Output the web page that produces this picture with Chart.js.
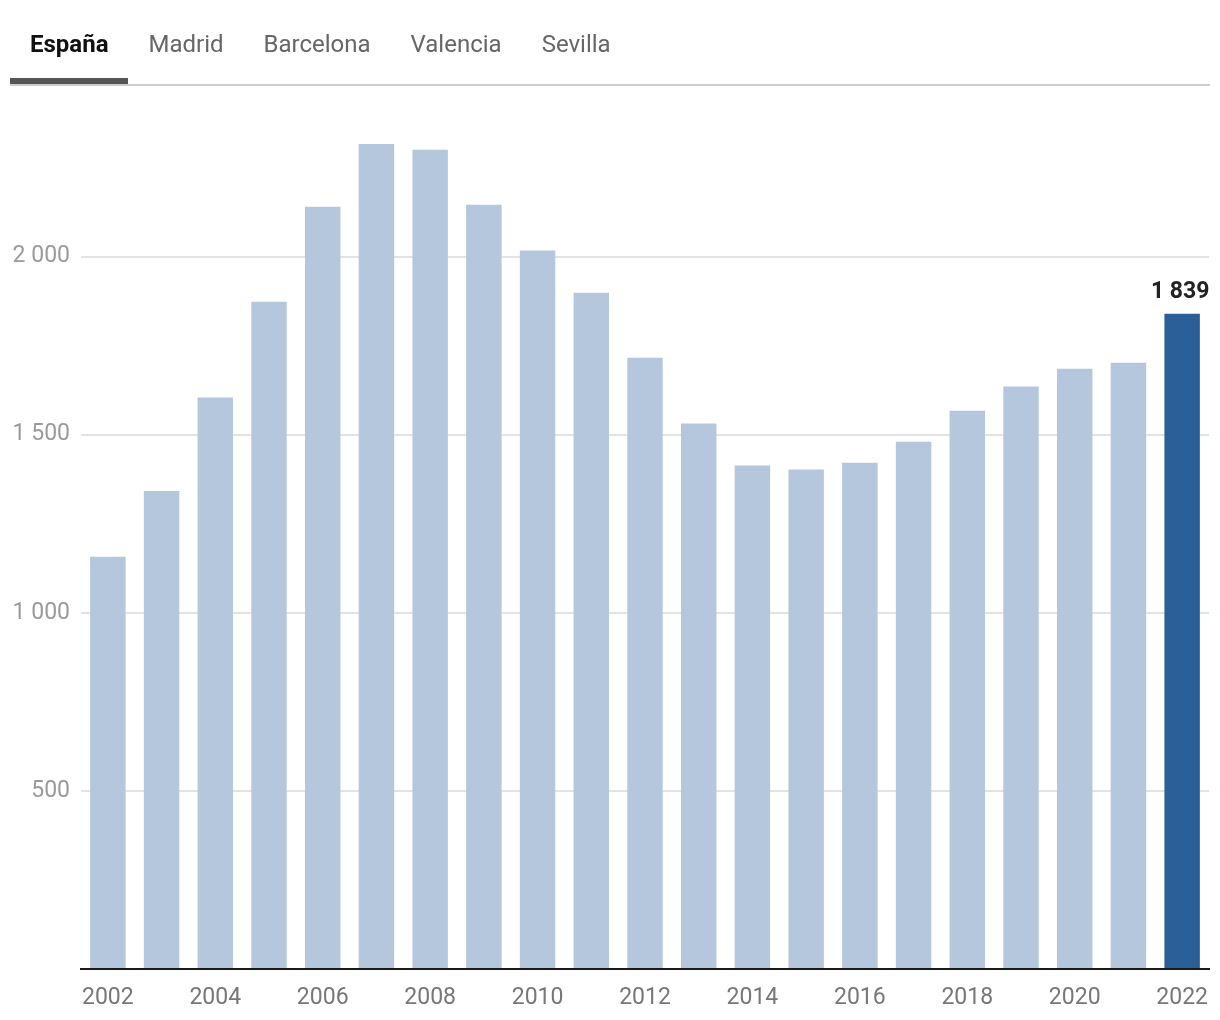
<!DOCTYPE html>
<html lang="es">
<head>
<meta charset="utf-8">
<title>España</title>
<script src="https://cdn.jsdelivr.net/npm/chart.js@4"></script>
<style>
  body { margin: 0; background: #fff; font-family: Roboto, "Noto Sans", sans-serif; }
  .contenedor { position: relative; width: 1220px; height: 1020px; }
  .pestanas { position: absolute; left: 10px; top: 0; display: flex; z-index: 2; }
  .pestana { padding: 32px 20px 22px 20px; font-size: 24px; line-height: 24px; color: #666; height: 24px; border-bottom: 6px solid transparent; }
  .pestana.activa { color: #111; font-weight: bold; border-bottom-color: #555; }
  .linea { position: absolute; left: 10px; top: 84px; width: 1200px; height: 2px; background: #ccc; z-index: 1; }
  canvas { position: absolute; left: 0; top: 0; }
</style>
</head>
<body>
<div class="contenedor">
  <div class="linea"></div>
  <div class="pestanas" id="pestanas"></div>
  <canvas id="grafico" width="1220" height="1020"></canvas>
</div>
<script>
var pestanas = ['España', 'Madrid', 'Barcelona', 'Valencia', 'Sevilla'];
var anios = ['2002', '2003', '2004', '2005', '2006', '2007', '2008', '2009', '2010', '2011', '2012',
             '2013', '2014', '2015', '2016', '2017', '2018', '2019', '2020', '2021', '2022'];
var valores = [1157, 1342, 1604, 1873, 2140, 2316, 2300, 2145, 2017, 1898, 1716,
               1531, 1413, 1402, 1421, 1480, 1567, 1635, 1685, 1702, 1839];
var ticksY = [500, 1000, 1500, 2000];

// Pestañas de arriba
pestanas.forEach(function(nombre, i) {
  var el = document.createElement('div');
  el.className = 'pestana' + (i === 0 ? ' activa' : '');
  el.textContent = nombre;
  document.getElementById('pestanas').appendChild(el);
});

function formatoMiles(v) {
  return String(v).replace(/\B(?=(\d{3})+(?!\d))/g, ' ');
}

var colores = valores.map(function(v, i) {
  return i === valores.length - 1 ? '#2a5f98' : '#b5c7dd';
});

// Etiqueta del último valor encima de la barra
var etiquetaUltima = {
  id: 'etiquetaUltima',
  afterDatasetsDraw: function(chart) {
    var meta = chart.getDatasetMeta(0);
    var i = valores.length - 1;
    var barra = meta.data[i];
    var ctx = chart.ctx;
    ctx.save();
    ctx.font = 'bold 23px Roboto';
    ctx.fillStyle = '#222';
    ctx.textAlign = 'center';
    ctx.textBaseline = 'alphabetic';
    ctx.fillText(formatoMiles(valores[i]), barra.x - 2, barra.y - 16);
    ctx.restore();
  }
};

Chart.defaults.font.family = 'Roboto';

var myChart = new Chart(document.getElementById('grafico'), {
  type: 'bar',
  data: {
    labels: anios,
    datasets: [{
      data: valores,
      backgroundColor: colores,
      borderWidth: 0,
      barPercentage: 0.66,
      categoryPercentage: 1
    }]
  },
  options: {
    responsive: false,
    animation: false,
    layout: { padding: { top: 114, right: 11, left: 0, bottom: 0 } },
    plugins: {
      legend: { display: false },
      tooltip: { enabled: false }
    },
    scales: {
      x: {
        grid: { display: false, drawTicks: false },
        border: { display: true, color: '#1a1a1a', width: 2 },
        ticks: {
          autoSkip: false,
          maxRotation: 0,
          padding: 15,
          color: '#777',
          font: { size: 23 },
          callback: function(v, i) { return i % 2 === 0 ? anios[i] : ''; }
        },
        afterFit: function(scale) {
          scale.height = 51;
          scale.paddingLeft = 0;
          scale.paddingRight = 0;
        }
      },
      y: {
        min: 0,
        max: 2400,
        grid: { color: '#e3e3e3', lineWidth: 2, drawTicks: false },
        border: { display: false },
        ticks: {
          padding: 11,
          color: '#9a9a9a',
          font: { size: 23 },
          callback: function(v) { return v === 0 ? '' : formatoMiles(v); }
        },
        afterBuildTicks: function(axis) {
          axis.ticks = [0].concat(ticksY).map(function(v) { return { value: v }; });
        },
        afterFit: function(scale) {
          scale.width = 81;
          scale.paddingTop = 0;
          scale.paddingBottom = 0;
        }
      }
    }
  },
  plugins: [etiquetaUltima]
});
</script>
</body>
</html>
